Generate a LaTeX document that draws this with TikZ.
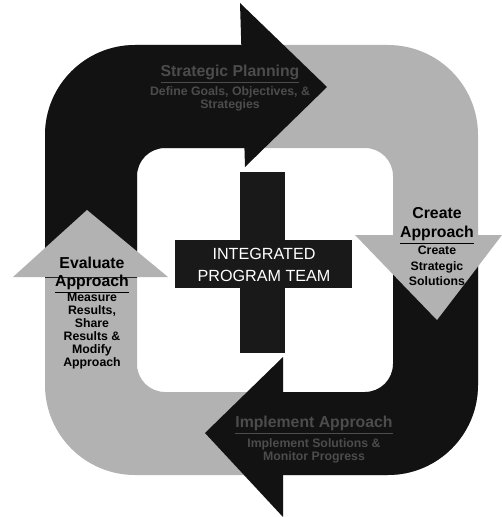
\documentclass[tikz,border=0pt]{standalone}
\usepackage{fontspec}
\setmainfont{Liberation Sans}
\usepackage{tikz}
\usetikzlibrary{positioning}
\newcommand{\ringpath}{%
  {[rounded corners=1.8cm] (45,45) rectangle (478,475)}
  {[rounded corners=0.56cm] (137,148) rectangle (393,392)}}

\begin{document}
\begin{tikzpicture}[
    x=0.02cm, y=-0.02cm,
    every node/.style={align=center, inner sep=0pt},
    litefill/.style={fill=black!30},
    darkfill/.style={fill=black!93},
    crossfill/.style={fill=black!90},
    head/.style={font=\fontsize{9}{10.4}\selectfont\bfseries},
    body/.style={font=\fontsize{7}{7.4}\selectfont\bfseries},
    widebody/.style={font=\fontsize{7}{9}\selectfont\bfseries},
    faint/.style={text=black!70},
    teamlbl/.style={font=\fontsize{9.2}{13}\selectfont, text=white}
  ]
  \useasboundingbox (0,0) rectangle (502,517);

  % Light ring underneath.
  \fill[litefill, even odd rule] \ringpath;

  % Dark quarter top left, with its arrow head.
  \begin{scope}
    \clip (0,0) rectangle (245,277);
    \fill[darkfill, even odd rule] \ringpath;
  \end{scope}
  \fill[darkfill] (240,3) -- (327,87) -- (245,167) -- cycle;

  % Dark quarter bottom right, with its arrow head.
  \begin{scope}
    \clip (283,235) rectangle (502,517);
    \fill[darkfill, even odd rule] \ringpath;
  \end{scope}
  \fill[darkfill] (283,357) -- (205,433) -- (283,517) -- cycle;

  % Light arrow heads on the sides.
  \fill[litefill] (355,235) -- (502,235) -- (437,320) -- cycle;
  \fill[litefill] (13,277) -- (87,210) -- (168,277) -- cycle;

  % Centre cross.
  \fill[crossfill] (240,172) rectangle (285,353);
  \fill[crossfill] (175,240) rectangle (352,288);
  \node[teamlbl] (team) at (264,265) {INTEGRATED\\PROGRAM TEAM};

  % Labels of the four steps.
  \node[head, faint] (plan)  at (230,74)  {\underline{Strategic Planning}};
  \node[body, faint, below=1.5pt of plan] (plantxt)
    {Define Goals, Objectives, \&\\Strategies};

  \node[head] (create) at (437,226) {Create\\\underline{Approach}};
  \node[widebody, below=0.5pt of create] (createtxt)
    {Create\\Strategic\\Solutions};

  \node[head, faint] (impl) at (314,425) {\underline{Implement Approach}};
  \node[body, faint, below=2pt of impl] (impltxt)
    {Implement Solutions \&\\Monitor Progress};

  \node[head] (eval) at (92,275) {Evaluate\\\underline{Approach}};
  \node[body, below=-0.8pt of eval] (evaltxt)
    {Measure\\Results,\\Share\\Results \&\\Modify\\Approach};

\end{tikzpicture}
\end{document}
